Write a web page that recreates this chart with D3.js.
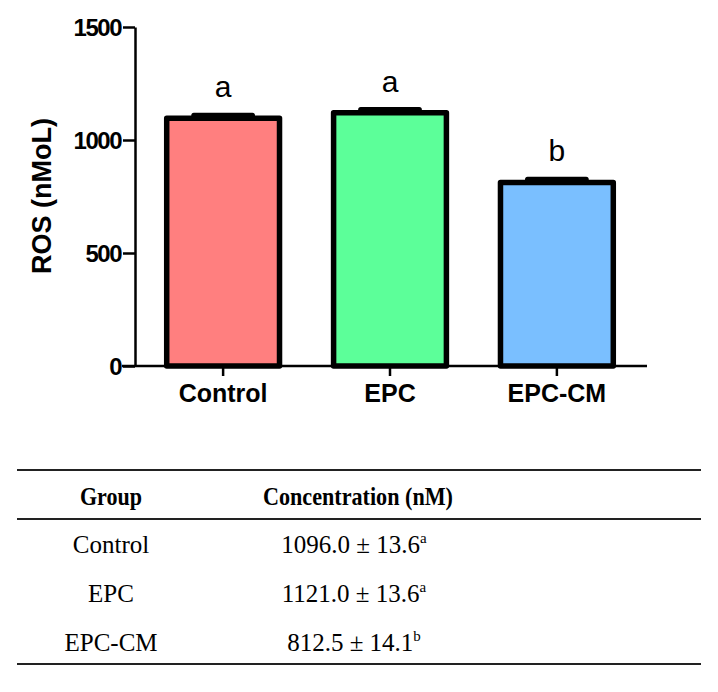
<!DOCTYPE html>
<html><head><meta charset="utf-8">
<script src="https://cdn.jsdelivr.net/npm/d3@7"></script>
<style>body{margin:0;background:#fff}svg{display:block}</style>
</head><body>
<svg id="c" width="718" height="692"></svg>
<script>
const categories = ["Control", "EPC", "EPC-CM"];
const means = [1096.0, 1121.0, 812.5];
const sems = [13.6, 13.6, 14.1];
const letters = ["a", "a", "b"];
const barColors = ["#FF7F7F", "#5CFF99", "#7ABFFF"];
const yTicks = [0, 500, 1000, 1500];
const yLabel = "ROS (nMoL)";
const tableHeader = ["Group", "Concentration (nM)"];
const tableValues = ["1096.0 ± 13.6", "1121.0 ± 13.6", "812.5 ± 14.1"];

const svg = d3.select("#c");
const y = d3.scaleLinear().domain([0, 1500]).range([366, 27]);
const x = d3.scaleBand().domain(categories).range([135, 645]).paddingInner(0.324).paddingOuter(0.19);

const g = svg.append("g");
// bars
g.selectAll("rect.bar").data(categories).join("rect")
  .attr("x", d => x(d)).attr("width", x.bandwidth())
  .attr("y", (d,i) => y(means[i])).attr("height", (d,i) => y(0) - y(means[i]))
  .attr("fill", (d,i) => barColors[i]).attr("stroke", "#000").attr("stroke-width", 5.5)
  .attr("stroke-linejoin", "round");
// error caps
g.selectAll("line.err").data(categories).join("line")
  .attr("x1", d => x(d) + x.bandwidth()*0.24).attr("x2", d => x(d) + x.bandwidth()*0.76)
  .attr("y1", (d,i) => y(means[i] + sems[i])).attr("y2", (d,i) => y(means[i] + sems[i]))
  .attr("stroke", "#000").attr("stroke-width", 5).attr("stroke-linecap", "round");
// letters
g.selectAll("text.let").data(categories).join("text")
  .attr("x", d => x(d) + x.bandwidth()/2)
  .attr("y", (d,i) => y(means[i] + sems[i]) - 18)
  .attr("text-anchor", "middle").attr("font-family", "Liberation Sans, Arial, sans-serif")
  .attr("font-size", 30).text((d,i) => letters[i]);

// y axis
const ya = g.append("g").attr("transform", "translate(135,0)")
  .call(d3.axisLeft(y).tickValues(yTicks).tickFormat(d3.format("d")).tickSize(12).tickSizeOuter(0).tickPadding(2));
ya.select(".domain").attr("stroke-width", 2.5);
ya.selectAll(".tick line").attr("stroke-width", 2.5);
ya.selectAll(".tick text").attr("font-family", "Liberation Sans, Arial, sans-serif")
  .attr("font-weight", "bold").attr("font-size", 24).attr("fill", "#000").attr("letter-spacing", -1.5).attr("dy", "0.36em");

// x axis
const xa = g.append("g").attr("transform", "translate(0,366)")
  .call(d3.axisBottom(x).tickSize(10).tickSizeOuter(0).tickPadding(8));
xa.select(".domain").attr("d", "M122,0H647").attr("stroke-width", 2.5);
xa.selectAll(".tick line").attr("stroke-width", 2.5);
xa.selectAll(".tick text").attr("font-family", "Liberation Sans, Arial, sans-serif")
  .attr("font-weight", "bold").attr("font-size", 25).attr("fill", "#000").attr("dy", "0.72em");

// y label
g.append("text").attr("transform", "translate(51,196) rotate(-90)")
  .attr("text-anchor", "middle").attr("font-family", "Liberation Sans, Arial, sans-serif")
  .attr("font-weight", "bold").attr("font-size", 27).text(yLabel);

// table
const t = svg.append("g").attr("font-family", "Liberation Serif, Times New Roman, serif").attr("fill", "#000");
[470, 519, 664].forEach(yy => t.append("line").attr("x1", 17).attr("x2", 701).attr("y1", yy).attr("y2", yy)
  .attr("stroke", "#222").attr("stroke-width", 2));
const colX = [111, 358];
t.selectAll("text.h").data(tableHeader).join("text")
  .attr("x", (d,i) => colX[i]).attr("y", 505).attr("text-anchor", "middle")
  .attr("font-weight", "bold").attr("font-size", 25)
  .attr("textLength", (d,i) => i === 0 ? 62 : 190).attr("lengthAdjust", "spacingAndGlyphs").text(d => d);
const rowY = [553, 602, 651];
t.selectAll("text.g").data(categories).join("text")
  .attr("x", colX[0]).attr("y", (d,i) => rowY[i]).attr("text-anchor", "middle")
  .attr("font-size", 25).text(d => d);
const vt = t.selectAll("text.v").data(tableValues).join("text")
  .attr("x", colX[1] - 4).attr("y", (d,i) => rowY[i]).attr("text-anchor", "middle")
  .attr("font-size", 25);
vt.append("tspan").text(d => d);
vt.append("tspan").attr("font-size", 15).attr("dy", -10).text((d,i) => letters[i]);
</script>
</body></html>
